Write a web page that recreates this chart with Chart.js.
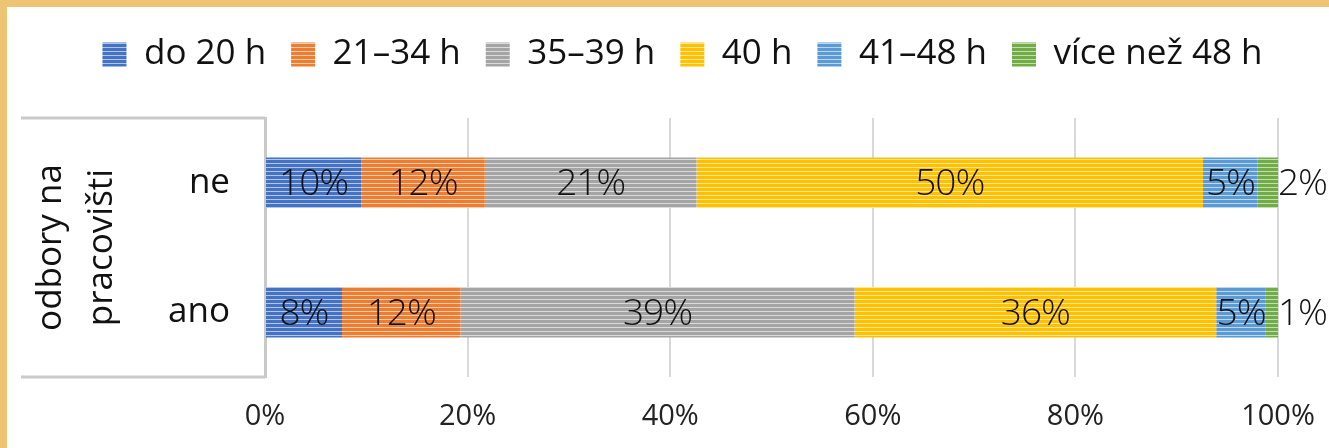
<!DOCTYPE html>
<html lang="cs">
<head>
  <meta charset="UTF-8">
  <title>Pracovní doba a odbory na pracovišti</title>
  <script src="https://cdn.jsdelivr.net/npm/chart.js"></script>
  <style>
    body {
      margin: 0;
      padding: 0;
      background: #fff;
    }
    #wrap {
      position: relative;
      width: 1329px;
      height: 448px;
      overflow: hidden;
    }
    #graph {
      position: absolute;
      left: 0;
      top: 0;
    }
    .edge {
      position: absolute;
      background: #ecc473;
    }
    #edgeTop { left: 0; top: 0; width: 1329px; height: 7px; }
    #edgeLeft { left: 0; top: 0; width: 7px; height: 448px; }
  </style>
</head>
<body>
  <div id="wrap">
    <canvas id="graph" width="1329" height="448"></canvas>
    <div class="edge" id="edgeTop"></div>
    <div class="edge" id="edgeLeft"></div>
  </div>

  <script>
    const categories = ['ne', 'ano'];
    const groupTitle = ['odbory na', 'pracovišti'];
    const seriesNames = ['do 20 h', '21–34 h', '35–39 h', '40 h', '41–48 h', 'více než 48 h'];
    const seriesColors = ['#4472c4', '#ed7d31', '#a5a5a5', '#ffc000', '#5b9bd5', '#70ad47'];

    // podíly v % (ne, ano)
    const do20 = [9.5, 7.6];
    const h21to34 = [12.2, 11.7];
    const h35to39 = [20.9, 38.9];
    const h40 = [50.0, 35.7];
    const h41to48 = [5.4, 4.9];
    const over48 = [2.0, 1.2];
    const seriesValues = [do20, h21to34, h35to39, h40, h41to48, over48];

    const xTicks = [0, 20, 40, 60, 80, 100];

    const fontFamily = '"Open Sans", "Noto Sans", sans-serif';

    // vodorovne prouzky jako v puvodnim grafu
    function stripes(color) {
      const c = document.createElement('canvas');
      c.width = 4;
      c.height = 4;
      const g = c.getContext('2d');
      g.fillStyle = color;
      g.fillRect(0, 0, 4, 4);
      g.fillStyle = 'rgba(255,255,255,0.6)';
      g.fillRect(0, 3, 4, 1);
      return g.createPattern(c, 'repeat');
    }

    const barLabels = {
      id: 'barLabels',
      afterDatasetsDraw(chart) {
        const ctx = chart.ctx;
        ctx.save();
        ctx.font = '300 37px ' + fontFamily;
        ctx.letterSpacing = '-1px';
        ctx.fillStyle = '#111';
        ctx.textBaseline = 'middle';
        const last = chart.data.datasets.length - 1;
        chart.data.datasets.forEach((ds, i) => {
          chart.getDatasetMeta(i).data.forEach((bar, j) => {
            const text = Math.round(ds.data[j]) + '%';
            if (i === last) {
              ctx.textAlign = 'left';
              ctx.fillText(text, bar.x, bar.y + 2);
            } else {
              ctx.textAlign = 'center';
              ctx.fillText(text, (bar.x + bar.base) / 2, bar.y + 2);
            }
          });
        });
        ctx.restore();
      }
    };

    const axisBox = {
      id: 'axisBox',
      afterDraw(chart) {
        const s = chart.scales.y;
        const ctx = chart.ctx;
        ctx.save();
        ctx.strokeStyle = '#c9c9c9';
        ctx.lineWidth = 3;
        ctx.beginPath();
        ctx.moveTo(s.left, s.top);
        ctx.lineTo(s.right, s.top);
        ctx.moveTo(s.left, s.bottom);
        ctx.lineTo(s.right, s.bottom);
        ctx.stroke();
        ctx.restore();
      }
    };

    // vyska legendy a posun doprava (v Excelu je legenda na stred celeho obrazku)
    const legendTweak = {
      id: 'legendTweak',
      beforeInit(chart) {
        const legend = chart.legend;
        const fit = legend.fit;
        legend.fit = function () {
          fit.bind(legend)();
          this.height = 106;
        };
        const draw = legend.draw;
        legend.draw = function (area) {
          chart.ctx.save();
          chart.ctx.translate(33, 0);
          draw.call(legend, area);
          chart.ctx.restore();
        };
      }
    };

    const ctx = document.getElementById('graph').getContext('2d');
    const chart = new Chart(ctx, {
      type: 'bar',
      data: {
        labels: categories,
        datasets: seriesNames.map((name, i) => ({
          label: name,
          data: seriesValues[i],
          backgroundColor: stripes(seriesColors[i]),
          borderWidth: 0,
          categoryPercentage: 1,
          barPercentage: 0.39
        }))
      },
      options: {
        indexAxis: 'y',
        responsive: false,
        animation: false,
        layout: {
          padding: { left: 21, right: 51, top: 12, bottom: 0 }
        },
        plugins: {
          legend: {
            position: 'top',
            labels: {
              boxWidth: 24,
              boxHeight: 24,
              padding: 25,
              color: '#111',
              font: { family: fontFamily, size: 35 }
            }
          },
          tooltip: { enabled: false }
        },
        scales: {
          x: {
            stacked: true,
            min: 0,
            max: 100,
            afterBuildTicks(scale) {
              scale.ticks = xTicks.map(v => ({ value: v }));
            },
            afterFit(scale) {
              scale.height = 71;
              scale.paddingLeft = 0;
              scale.paddingRight = 0;
            },
            grid: {
              color: '#d9d9d9',
              lineWidth: 2,
              drawTicks: false
            },
            border: { display: false },
            ticks: {
              padding: 22,
              color: '#222',
              font: { family: fontFamily, size: 29 },
              callback: v => v + '%'
            }
          },
          y: {
            stacked: true,
            afterFit(scale) {
              scale.width = 244;
            },
            grid: { display: false, drawTicks: false },
            border: { display: true, color: '#c9c9c9', width: 3 },
            ticks: {
              padding: 35,
              color: '#111',
              font: { family: fontFamily, size: 35 }
            },
            title: {
              display: true,
              text: groupTitle,
              color: '#111',
              padding: { top: 5, bottom: 0 },
              font: { family: fontFamily, size: 35, lineHeight: 1.45 }
            }
          }
        }
      },
      plugins: [barLabels, axisBox, legendTweak]
    });
  </script>
</body>
</html>
